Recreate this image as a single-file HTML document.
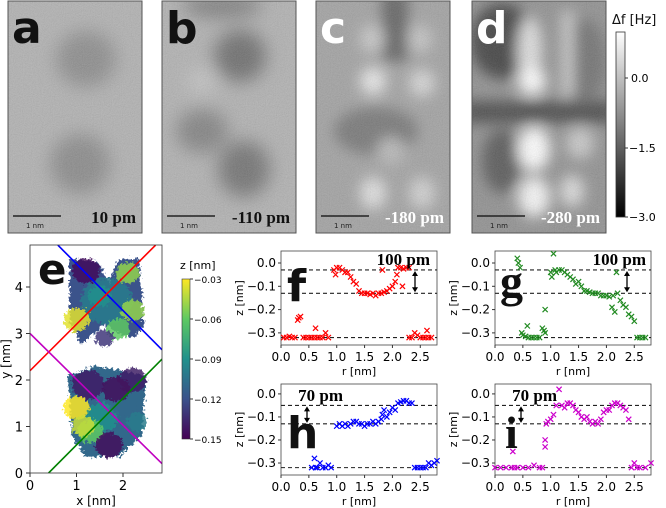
<!DOCTYPE html>
<html><head><meta charset="utf-8">
<style>
html,body{margin:0;padding:0;background:#fff}
svg{display:block}
text{font-family:"DejaVu Sans","Liberation Sans",sans-serif}
.ser{font-family:"Liberation Serif",serif;font-weight:bold}
</style></head>
<body>
<svg id="fig" width="666" height="508" viewBox="0 0 666 508" xmlns="http://www.w3.org/2000/svg">
<defs>
<filter id="b8" x="-50%" y="-50%" width="200%" height="200%"><feGaussianBlur stdDeviation="9"/></filter>
<filter id="b4" x="-50%" y="-50%" width="200%" height="200%"><feGaussianBlur stdDeviation="7"/></filter>
<filter id="b1"><feGaussianBlur stdDeviation="1"/></filter>
<filter id="noise"><feTurbulence type="fractalNoise" baseFrequency="0.9" numOctaves="2" seed="3"/><feColorMatrix type="saturate" values="0"/><feComponentTransfer><feFuncA type="linear" slope="0" intercept="0.18"/></feComponentTransfer></filter>
<filter id="pix"><feTurbulence type="fractalNoise" baseFrequency="0.35" numOctaves="2" seed="7"/><feDisplacementMap in="SourceGraphic" scale="9" xChannelSelector="R" yChannelSelector="G"/></filter>
<linearGradient id="gray" x1="0" y1="1" x2="0" y2="0"><stop offset="0" stop-color="#000"/><stop offset="1" stop-color="#fff"/></linearGradient>
<linearGradient id="viridis" x1="0" y1="1" x2="0" y2="0"><stop offset="0" stop-color="#440154"/><stop offset="0.25" stop-color="#3b528b"/><stop offset="0.5" stop-color="#21918c"/><stop offset="0.75" stop-color="#5ec962"/><stop offset="1" stop-color="#fde725"/></linearGradient>
<clipPath id="ca"><rect x="0" y="0" width="134" height="232"/></clipPath>
<clipPath id="ce"><rect x="30" y="245" width="132" height="228"/></clipPath>
</defs>

<g transform="translate(8,1)">
 <g clip-path="url(#ca)"><rect width="134" height="232" fill="#b0b0b0"/>
 <g filter="url(#b8)"><ellipse cx="78" cy="58" rx="30" ry="28" fill="#8a8a8a"/><ellipse cx="72" cy="163" rx="30" ry="30" fill="#888"/></g>
 <rect width="134" height="232" filter="url(#noise)"/></g>
 <rect width="134" height="232" fill="none" stroke="#555" stroke-width="1"/>
 <text x="4" y="42" font-size="44" font-weight="bold" fill="#111">a</text>
 <line x1="5" y1="215" x2="53" y2="215" stroke="#222" stroke-width="1.5"/><text x="18" y="227" font-size="7" fill="#222">1 nm</text>
 <text x="128" y="222" text-anchor="end" font-size="17" class="ser" fill="#111">10 pm</text>
</g>
<g transform="translate(162,1)">
 <g clip-path="url(#ca)"><rect width="134" height="232" fill="#b0b0b0"/>
 <g filter="url(#b8)"><ellipse cx="60" cy="5" rx="40" ry="12" fill="#7a7a7a"/><ellipse cx="78" cy="55" rx="26" ry="26" fill="#6a6a6a"/><ellipse cx="40" cy="130" rx="26" ry="22" fill="#808080"/><ellipse cx="82" cy="168" rx="26" ry="28" fill="#6f6f6f"/><ellipse cx="40" cy="80" rx="14" ry="12" fill="#c4c4c4"/></g>
 <rect width="134" height="232" filter="url(#noise)"/></g>
 <rect width="134" height="232" fill="none" stroke="#555"/>
 <text x="4" y="42" font-size="44" font-weight="bold" fill="#111">b</text>
 <line x1="5" y1="215" x2="53" y2="215" stroke="#222" stroke-width="1.5"/><text x="18" y="227" font-size="7" fill="#222">1 nm</text>
 <text x="128" y="222" text-anchor="end" font-size="17" class="ser" fill="#111">-110 pm</text>
</g>
<g transform="translate(316,1)">
 <g clip-path="url(#ca)"><rect width="134" height="232" fill="#a0a0a0"/>
 <g filter="url(#b4)"><rect x="66" y="-10" width="26" height="70" fill="#5e5e5e"/><ellipse cx="60" cy="130" rx="42" ry="24" fill="#747474"/><ellipse cx="56" cy="38" rx="12" ry="14" fill="#c8c8c8"/><ellipse cx="104" cy="38" rx="12" ry="14" fill="#c4c4c4"/><ellipse cx="57" cy="80" rx="13" ry="14" fill="#e8e8e8"/><ellipse cx="106" cy="82" rx="13" ry="14" fill="#d6d6d6"/><ellipse cx="57" cy="192" rx="13" ry="16" fill="#e0e0e0"/><ellipse cx="106" cy="192" rx="13" ry="16" fill="#d0d0d0"/><ellipse cx="75" cy="150" rx="14" ry="14" fill="#b8b8b8"/></g>
 <rect width="134" height="232" filter="url(#noise)"/></g>
 <rect width="134" height="232" fill="none" stroke="#555"/>
 <text x="4" y="42" font-size="44" font-weight="bold" fill="#fff">c</text>
 <line x1="5" y1="215" x2="53" y2="215" stroke="#222" stroke-width="1.5"/><text x="18" y="227" font-size="7" fill="#222">1 nm</text>
 <text x="128" y="222" text-anchor="end" font-size="17" class="ser" fill="#fff">-180 pm</text>
</g>
<g transform="translate(472,1)">
 <g clip-path="url(#ca)"><rect width="134" height="232" fill="#8e8e8e"/>
 <g filter="url(#b4)"><ellipse cx="30" cy="40" rx="32" ry="38" fill="#3e3e3e"/><rect x="-10" y="100" width="154" height="22" fill="#444"/><ellipse cx="30" cy="160" rx="20" ry="32" fill="#555"/><ellipse cx="112" cy="60" rx="22" ry="42" fill="#6e6e6e"/><ellipse cx="58" cy="50" rx="12" ry="34" fill="#e0e0e0"/><ellipse cx="60" cy="80" rx="14" ry="14" fill="#ffffff"/><rect x="90" y="10" width="11" height="85" fill="#d0d0d0"/><ellipse cx="62" cy="148" rx="16" ry="22" fill="#ffffff"/><ellipse cx="62" cy="196" rx="16" ry="20" fill="#f6f6f6"/><ellipse cx="108" cy="142" rx="14" ry="16" fill="#c8c8c8"/><ellipse cx="100" cy="190" rx="12" ry="16" fill="#dcdcdc"/></g>
 <rect width="134" height="232" filter="url(#noise)"/></g>
 <rect width="134" height="232" fill="none" stroke="#555"/>
 <text x="4" y="42" font-size="44" font-weight="bold" fill="#fff">d</text>
 <line x1="5" y1="215" x2="53" y2="215" stroke="#222" stroke-width="1.5"/><text x="18" y="227" font-size="7" fill="#222">1 nm</text>
 <text x="128" y="222" text-anchor="end" font-size="17" class="ser" fill="#fff">-280 pm</text>
</g>
<g>
 <text x="612" y="24" font-size="13" fill="#111">Δf [Hz]</text>
 <rect x="616" y="32" width="9" height="185" fill="url(#gray)" stroke="#333" stroke-width="0.8"/>
 <line x1="625" y1="78" x2="628" y2="78" stroke="#333"/><text x="631" y="82" font-size="11">0.0</text>
 <line x1="625" y1="148" x2="628" y2="148" stroke="#333"/><text x="629" y="152" font-size="11">−1.5</text>
 <line x1="625" y1="217" x2="628" y2="217" stroke="#333"/><text x="629" y="221" font-size="11">−3.0</text>
</g>

<g id="pe"></g>
<g id="scatter"></g>

<script>
const NS='http://www.w3.org/2000/svg';
function mk(p,tag,at){const e=document.createElementNS(NS,tag);for(const k in at)e.setAttribute(k,at[k]);p.appendChild(e);return e;}

const eXTicks=[0,1,2];
const eYTicks=[0,1,2,3,4];
const lineBlue=[[0.6,4.9],[2.84,2.65]];
const lineRed=[[0,2.2],[2.7,4.9]];
const lineMag=[[0,3.0],[2.84,0.2]];
const lineGreen=[[0.4,0],[2.84,2.45]];
const blobX=[1.65,1.2,2.1,1.0,2.2,1.5,1.9,1.6,1.25,2.2,1.0,1.55,2.0,1.3,1.7,2.3,1.15,1.85];
const blobY=[3.7,4.35,4.3,3.3,3.5,3.8,3.1,2.9,1.9,2.0,1.4,1.2,1.5,0.9,0.6,1.1,1.0,1.8];
const blobR=[0.55,0.3,0.25,0.28,0.25,0.25,0.25,0.2,0.35,0.3,0.28,0.35,0.3,0.28,0.3,0.22,0.25,0.3];
const blobZ=[-0.10,-0.145,-0.05,-0.035,-0.05,-0.09,-0.06,-0.13,-0.14,-0.14,-0.03,-0.09,-0.11,-0.06,-0.145,-0.10,-0.04,-0.145];

const ex=v=>30+v*46.5, ey=v=>473-v*46.5;
function viridis(z){const t=Math.max(0,Math.min(1,(z+0.15)/0.12));const c=[[68,1,84],[59,82,139],[33,145,140],[94,201,98],[253,231,37]];const s=t*4,i=Math.min(3,Math.floor(s)),f=s-i;const a=c[i],b=c[i+1];return `rgb(${a.map((v,k)=>Math.round(v+(b[k]-v)*f)).join(',')})`;}
const pe=document.getElementById('pe');
mk(pe,'rect',{x:30,y:245,width:132,height:228,fill:'#fff'});
const eg=mk(pe,'g',{'clip-path':'url(#ce)'});


const bg=mk(eg,'g',{filter:'url(#pix)'});
mk(bg,'path',{d:`M${ex(0.85)},${ey(4.6)} L${ex(1.45)},${ey(4.55)} L${ex(1.7)},${ey(4.1)} L${ex(1.9)},${ey(4.6)} L${ex(2.35)},${ey(4.6)} L${ex(2.45)},${ey(3.2)} L${ex(2.25)},${ey(2.9)} L${ex(1.9)},${ey(3.0)} L${ex(1.6)},${ey(3.2)} L${ex(1.1)},${ey(2.75)} L${ex(0.85)},${ey(3.3)} Z`,fill:viridis(-0.12)});
mk(bg,'path',{d:`M${ex(0.8)},${ey(2.1)} L${ex(1.4)},${ey(2.3)} L${ex(2.5)},${ey(2.1)} L${ex(2.45)},${ey(1.4)} L${ex(2.4)},${ey(0.8)} L${ex(1.9)},${ey(0.35)} L${ex(1.2)},${ey(0.35)} L${ex(0.9)},${ey(0.8)} L${ex(0.85)},${ey(1.6)} Z`,fill:viridis(-0.11)});
blobX.forEach((x,i)=>{const e=mk(bg,'ellipse',{cx:ex(x),cy:ey(blobY[i]),rx:blobR[i]*46.5,ry:blobR[i]*46.5*0.9,fill:viridis(blobZ[i]),opacity:0.85});

});
[[lineBlue,'#0000ff','cut-line-blue'],[lineRed,'#ff0000','cut-line-red'],[lineMag,'#c000c0','cut-line-magenta'],[lineGreen,'#008000','cut-line-green']].forEach(([L,c,n])=>{const l=mk(eg,'line',{x1:ex(L[0][0]),y1:ey(L[0][1]),x2:ex(L[1][0]),y2:ey(L[1][1]),stroke:c,'stroke-width':1.6});

});
mk(pe,'rect',{x:30,y:245,width:132,height:228,fill:'none',stroke:'#333','stroke-width':0.8});
eXTicks.forEach(v=>{mk(pe,'line',{x1:ex(v),y1:473,x2:ex(v),y2:477,stroke:'#333'});const t=mk(pe,'text',{x:ex(v),y:490,'text-anchor':'middle','font-size':13});t.textContent=v;});
eYTicks.forEach(v=>{mk(pe,'line',{x1:26,y1:ey(v),x2:30,y2:ey(v),stroke:'#333'});const t=mk(pe,'text',{x:23,y:ey(v)+5,'text-anchor':'end','font-size':13});t.textContent=v;});
let t=mk(pe,'text',{x:96,y:505,'text-anchor':'middle','font-size':12});t.textContent='x [nm]';
t=mk(pe,'text',{x:0,y:0,'text-anchor':'middle','font-size':12,transform:'translate(10,359) rotate(-90)'});t.textContent='y [nm]';
t=mk(pe,'text',{x:38,y:284,'font-size':42,'font-weight':'bold',fill:'#111'});t.textContent='e';
const zTicks=['−0.03','−0.06','−0.09','−0.12','−0.15'];
mk(pe,'rect',{x:182,y:279,width:8,height:160,fill:'url(#viridis)',stroke:'#333','stroke-width':0.6});
t=mk(pe,'text',{x:180,y:269,'font-size':11});t.textContent='z [nm]';
zTicks.forEach((s,i)=>{const y=279+i*40;mk(pe,'line',{x1:190,y1:y,x2:193,y2:y,stroke:'#333'});const tt=mk(pe,'text',{x:194,y:y+4,'font-size':9});tt.textContent=s;});

const rTicks=[0,0.5,1.0,1.5,2.0,2.5];
const zTickVals=[0,-0.1,-0.2,-0.3];
const fR=[0.05,0.1,0.15,0.2,0.25,0.3,0.32,0.35,0.4,0.45,0.5,0.55,0.6,0.62,0.65,0.7,0.75,0.8,0.85,0.95,0.98,1.0,1.05,1.1,1.15,1.2,1.25,1.3,1.35,1.4,1.45,1.5,1.55,1.6,1.65,1.7,1.75,1.8,1.85,1.9,1.95,2.0,2.05,2.08,2.1,2.15,2.18,2.2,2.25,2.3,2.3,2.35,2.4,2.45,2.5,2.55,2.6,2.62,2.65,2.7,1.82];
const fZ=[-0.32,-0.32,-0.315,-0.32,-0.32,-0.245,-0.235,-0.23,-0.32,-0.32,-0.32,-0.32,-0.32,-0.28,-0.32,-0.32,-0.32,-0.30,-0.32,-0.03,-0.05,-0.02,-0.02,-0.03,-0.04,-0.04,-0.06,-0.08,-0.09,-0.12,-0.13,-0.13,-0.13,-0.135,-0.13,-0.14,-0.13,-0.13,-0.125,-0.12,-0.11,-0.10,-0.08,-0.05,-0.02,-0.02,-0.10,-0.025,-0.02,-0.02,-0.32,-0.32,-0.30,-0.31,-0.32,-0.32,-0.32,-0.29,-0.32,-0.32,-0.03];
const gR=[0.4,0.42,0.45,0.48,0.5,0.55,0.6,0.65,0.7,0.75,0.8,0.85,0.88,0.9,1.0,1.02,1.05,1.08,1.1,1.15,1.2,1.25,1.3,1.35,1.4,1.45,1.5,1.55,1.6,1.65,1.7,1.75,1.8,1.85,1.9,1.95,2.0,2.05,2.1,2.12,2.15,2.2,2.25,2.3,2.35,2.4,2.45,2.5,2.55,2.6,2.65,2.7,0.9,0.58,2.18];
const gZ=[0.02,0.0,-0.02,-0.30,-0.31,-0.315,-0.32,-0.32,-0.32,-0.32,-0.32,-0.28,-0.29,-0.20,-0.04,-0.06,0.04,-0.03,-0.04,-0.03,-0.03,-0.04,-0.05,-0.06,-0.07,-0.09,-0.08,-0.10,-0.12,-0.12,-0.125,-0.13,-0.13,-0.13,-0.14,-0.14,-0.14,-0.145,-0.19,-0.14,-0.21,-0.13,-0.16,-0.18,-0.19,-0.22,-0.23,-0.25,-0.32,-0.32,-0.32,-0.32,-0.30,-0.27,-0.04];
const hR=[0.55,0.6,0.62,0.65,0.7,0.75,0.8,0.85,0.9,1.0,1.05,1.1,1.15,1.2,1.25,1.3,1.35,1.4,1.45,1.5,1.55,1.6,1.65,1.7,1.75,1.8,1.82,1.85,1.9,1.95,2.0,2.05,2.1,2.15,2.2,2.25,2.3,2.35,2.4,2.45,2.5,2.55,2.6,2.65,2.7,2.75,2.8];
const hZ=[-0.32,-0.28,-0.32,-0.32,-0.30,-0.32,-0.32,-0.31,-0.32,-0.14,-0.13,-0.14,-0.13,-0.14,-0.13,-0.12,-0.12,-0.13,-0.13,-0.14,-0.13,-0.13,-0.12,-0.13,-0.12,-0.11,-0.09,-0.07,-0.10,-0.08,-0.06,-0.07,-0.04,-0.035,-0.03,-0.03,-0.04,-0.04,-0.32,-0.32,-0.32,-0.32,-0.32,-0.30,-0.31,-0.30,-0.29];
const iR=[0.0,0.1,0.2,0.3,0.35,0.4,0.5,0.6,0.7,0.8,0.85,0.9,0.9,0.92,0.95,1.0,1.05,1.1,1.15,1.2,1.25,1.3,1.35,1.4,1.45,1.5,1.55,1.6,1.65,1.7,1.75,1.8,1.85,1.9,1.95,2.0,2.05,2.1,2.15,2.2,2.25,2.3,2.35,2.4,2.45,2.5,2.55,2.6,2.7,2.8,0.32];
const iZ=[-0.32,-0.32,-0.32,-0.32,-0.32,-0.32,-0.32,-0.32,-0.31,-0.32,-0.32,-0.23,-0.20,-0.13,-0.12,-0.11,-0.09,-0.05,0.02,-0.05,-0.06,-0.04,-0.04,-0.05,-0.07,-0.08,-0.10,-0.11,-0.10,-0.12,-0.13,-0.12,-0.13,-0.11,-0.08,-0.07,-0.07,-0.05,-0.04,-0.04,-0.05,-0.06,-0.07,-0.11,-0.32,-0.30,-0.32,-0.32,-0.32,-0.30,-0.25];
const dashF=[-0.03,-0.13,-0.32], dashH=[-0.05,-0.13,-0.32];

const panels=[
 {id:'f',x0:281,y0:251,h:94,zt:0.0515,zb:-0.352,R:fR,Z:fZ,c:'#ff0000',dash:dashF,lab:'100 pm',labX:430,labY:265,arr:[415,-0.03,-0.13],letterX:287,letterY:301,ser:false},
 {id:'g',x0:495,y0:251,h:94,zt:0.0515,zb:-0.352,R:gR,Z:gZ,c:'#228b22',dash:dashF,lab:'100 pm',labX:646,labY:265,arr:[627,-0.03,-0.13],letterX:500,letterY:297,ser:true},
 {id:'h',x0:281,y0:384,h:91,zt:0.043,zb:-0.352,R:hR,Z:hZ,c:'#0000ff',dash:dashH,lab:'70 pm',labX:343,labY:401,arr:[307,-0.05,-0.13],letterX:287,letterY:448,ser:false},
 {id:'i',x0:495,y0:384,h:91,zt:0.043,zb:-0.352,R:iR,Z:iZ,c:'#cc00cc',dash:dashH,lab:'70 pm',labX:557,labY:401,arr:[521,-0.05,-0.13],letterX:505,letterY:448,ser:true}
];
const sc=document.getElementById('scatter');
panels.forEach(p=>{
 const g=mk(sc,'g',{});
 
 
 const W=156, X=v=>p.x0+v/2.8*W, Y=v=>p.y0+(p.zt-v)/(p.zt-p.zb)*p.h;
 mk(g,'rect',{x:p.x0,y:p.y0,width:W,height:p.h,fill:'#fff',stroke:'#444','stroke-width':0.8});
 p.dash.forEach(d=>{const l=mk(g,'line',{x1:p.x0,x2:p.x0+W,y1:Y(d),y2:Y(d),stroke:'#222','stroke-dasharray':'4,3','stroke-width':1.1});
 
 });
 p.R.forEach((r,i)=>{const x=X(r),y=Y(p.Z[i]),s=2.6;
  const m=mk(g,'path',{d:`M${x-s},${y-s}L${x+s},${y+s}M${x-s},${y+s}L${x+s},${y-s}`,stroke:p.c,'stroke-width':1.2});
  
  });
 rTicks.forEach(v=>{mk(g,'line',{x1:X(v),x2:X(v),y1:p.y0+p.h,y2:p.y0+p.h+3,stroke:'#333'});const t=mk(g,'text',{x:X(v),y:p.y0+p.h+16,'text-anchor':'middle','font-size':12});t.textContent=v.toFixed(1);});
 zTickVals.forEach(v=>{mk(g,'line',{x1:p.x0-3,x2:p.x0,y1:Y(v),y2:Y(v),stroke:'#333'});const t=mk(g,'text',{x:p.x0-5,y:Y(v)+4,'text-anchor':'end','font-size':12});t.textContent=v===0?'0.0':'−'+Math.abs(v).toFixed(1);});
 let t=mk(g,'text',{x:p.x0+W/2,y:p.y0+p.h+30,'text-anchor':'middle','font-size':11});t.textContent='r [nm]';
 t=mk(g,'text',{x:0,y:0,'text-anchor':'middle','font-size':11,transform:`translate(${p.x0-38},${p.y0+p.h/2}) rotate(-90)`});t.textContent='z [nm]';
 t=mk(g,'text',{x:p.labX,y:p.labY,'text-anchor':'end','font-size':17,class:'ser'});t.textContent=p.lab;
 t=mk(g,'text',{x:p.letterX,y:p.letterY,'font-size':p.ser?46:44,'font-weight':'bold',fill:'#111',class:p.ser?'ser':''});t.textContent=p.id;
 const ax=p.arr[0],ya=Y(p.arr[1])+1,yb=Y(p.arr[2])-1;
 mk(g,'line',{x1:ax,x2:ax,y1:ya+4,y2:yb-4,stroke:'#000','stroke-width':1.3});
 mk(g,'path',{d:`M${ax-3},${ya+5}L${ax},${ya}L${ax+3},${ya+5}ZM${ax-3},${yb-5}L${ax},${yb}L${ax+3},${yb-5}Z`,fill:'#000'});
});
</script>
</svg>
</body></html>
